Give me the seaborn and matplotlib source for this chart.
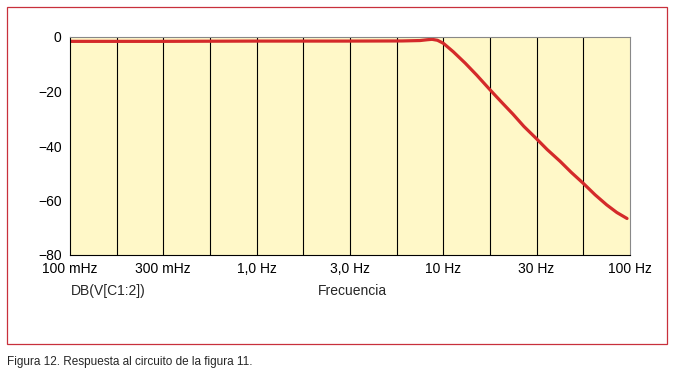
import numpy as np
import pandas as pd
import seaborn as sns
import matplotlib.pyplot as plt
from matplotlib.patches import Rectangle

# Frequency response (Hz, dB)
freq_hz = [0.1, 0.3, 1.0, 3.0, 6.0, 7.5, 8.2, 8.7, 9.3, 10.0, 11.3, 13.1, 15.1,
           17.8, 20.5, 23.6, 27.0, 31.3, 36.0, 42.2, 48.5, 56.2, 65.0, 75.0, 85.0, 96.4]
gain_db = [-1.6, -1.6, -1.5, -1.5, -1.45, -1.3, -1.0, -0.85, -1.2, -2.3, -5.4, -9.6, -14.0,
           -19.4, -23.9, -28.3, -32.8, -37.1, -41.3, -45.6, -49.7, -53.7, -57.9, -61.6, -64.4, -66.6]

xtick_vals = [0.1, 0.316, 1.0, 3.16, 10.0, 31.6, 100.0]
xtick_labels = ["100 mHz", "300 mHz", "1,0 Hz", "3,0 Hz", "10 Hz", "30 Hz", "100 Hz"]
ytick_vals = [0, -20, -40, -60, -80]

df = pd.DataFrame({"Frecuencia": freq_hz, "dB": gain_db})

sns.set_style("white")
plt.rcParams["font.family"] = ["Liberation Sans", "DejaVu Sans"]

fig = plt.figure(figsize=(6.77, 3.81), dpi=100)

# red frame around the figure body
fig.patches.append(Rectangle((7 / 677, 1 - 344 / 381), 660 / 677, 337 / 381,
                             transform=fig.transFigure, fill=False,
                             edgecolor="#c8303c", linewidth=0.9))

ax = fig.add_axes([70 / 677, 1 - 255 / 381, 560 / 677, 218 / 381])
ax.set_facecolor("#fff8c8")

sns.lineplot(data=df, x="Frecuencia", y="dB", ax=ax, color="#d42a2a", linewidth=2.3,
             solid_joinstyle="round", solid_capstyle="round")

ax.set_xscale("log")
ax.set_xlim(0.1, 100)
ax.set_ylim(-80, 0)

# vertical grid every quarter decade
for g in 10 ** np.arange(-1, 2.01, 0.25)[1:-1]:
    ax.axvline(g, color="black", linewidth=0.8, zorder=1)

ax.set_xticks(xtick_vals)
ax.set_xticklabels(xtick_labels)
ax.xaxis.set_minor_locator(plt.NullLocator())
ax.set_yticks(ytick_vals)
ax.set_yticklabels(["0", "\u221220", "\u221240", "\u221260", "\u221280"])
ax.tick_params(axis="both", direction="out", length=4, width=0.8,
               labelsize=10, colors="black", pad=2)
ax.tick_params(axis="x", pad=1)

for side in ["left", "bottom"]:
    ax.spines[side].set_color("black")
    ax.spines[side].set_linewidth(0.8)
ax.spines["top"].set_color("#888888")
ax.spines["top"].set_linewidth(0.8)
ax.spines["right"].set_color("#888888")
ax.spines["right"].set_linewidth(0.8)

ax.set_xlabel("")
ax.set_ylabel("")

fig.text(108 / 677, 1 - 291 / 381, "DB(V[C1:2])", ha="center", va="center", fontsize=10)
fig.text(352 / 677, 1 - 291 / 381, "Frecuencia", ha="center", va="center", fontsize=10)
fig.text(7 / 677, 1 - 362 / 381, "Figura 12. Respuesta al circuito de la figura 11.",
         ha="left", va="center", fontsize=8.5)

fig.savefig("out.png", dpi=100)
